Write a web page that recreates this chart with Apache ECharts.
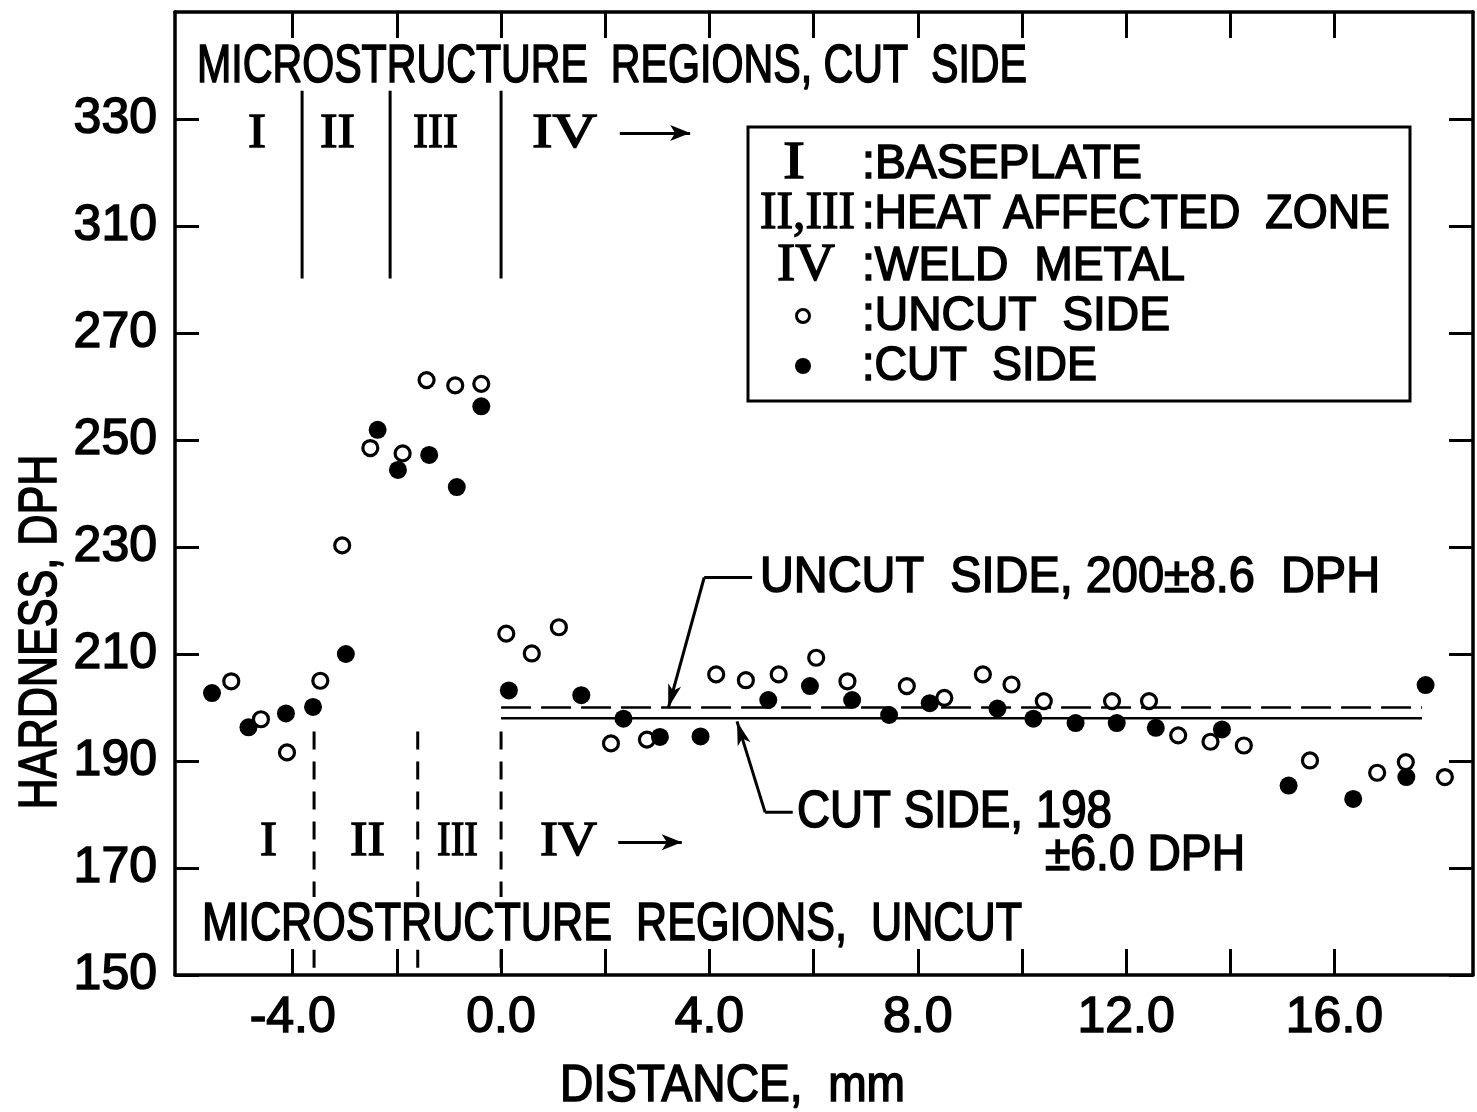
<!DOCTYPE html>
<html>
<head>
<meta charset="utf-8">
<script src="https://cdn.jsdelivr.net/npm/echarts@6/dist/echarts.min.js"></script>
<style>html,body{margin:0;padding:0;background:#fff}#c{width:1477px;height:1112px}</style>
</head>
<body>
<div id="c"></div>
<script>
// ---------- data ----------
const xTickValues = [-4, -2, 0, 2, 4, 6, 8, 10, 12, 14, 16];
const xLabelValues = [-4, 0, 4, 8, 12, 16];
const yTickValues = [150, 170, 190, 210, 230, 250, 270, 290, 310];
const yTickLabels = ['150', '170', '190', '210', '230', '250', '270', '310', '330'];

const uncutX = [-5.18, -4.61, -4.11, -3.47, -3.05, -2.51, -1.89, -1.43, -0.88, -0.38, 0.10, 0.59, 1.11, 2.11, 2.80, 4.13, 4.70, 5.33, 6.05, 6.65, 7.79, 8.51, 9.25, 9.80, 10.42, 11.73, 12.44, 13.00, 13.62, 14.26, 15.53, 16.82, 17.37, 18.12];
const uncutY = [204.9, 197.8, 191.6, 205.0, 230.3, 248.5, 247.5, 261.2, 260.2, 260.5, 213.8, 210.1, 215.0, 193.3, 194.0, 206.2, 205.1, 206.2, 209.3, 204.9, 204.0, 201.8, 206.2, 204.3, 201.2, 201.2, 201.2, 194.8, 193.6, 192.9, 190.1, 187.8, 189.8, 187.0];

const cutX = [-5.55, -4.85, -4.13, -3.61, -2.98, -2.37, -1.98, -1.38, -0.85, -0.38, 0.15, 1.54, 2.35, 3.05, 3.83, 5.13, 5.93, 6.74, 7.45, 8.23, 9.53, 10.22, 11.03, 11.82, 12.57, 13.84, 15.12, 16.36, 17.38, 17.75];
const cutY = [202.7, 196.3, 198.9, 200.1, 210.0, 251.9, 244.4, 247.2, 241.2, 256.3, 203.2, 202.3, 197.9, 194.5, 194.6, 201.4, 204.0, 201.4, 198.6, 200.8, 199.8, 197.9, 197.1, 197.1, 196.2, 195.9, 185.4, 182.9, 187.0, 204.2];

const uncutMean = 200;
const cutMean = 198;
const meanRange = [0, 17.68];

const cutSideBounds = [-3.82, -2.13, 0];
const uncutSideBounds = [-3.59, -1.60, 0];

// ---------- helpers ----------
const SANS = '"Liberation Sans", Arial, sans-serif';
const SERIF = '"Liberation Serif", "Times New Roman", serif';
const mctx = document.createElement('canvas').getContext('2d');

function fit(str, l, r, t, b, opt) {
  opt = opt || {};
  const fam = opt.family || SANS;
  const cap = opt.cap || 0.716;
  const weight = opt.weight || 'normal';
  const sw = opt.stroke === undefined ? 1.6 : opt.stroke;
  const fs = (b - t) / cap;
  const font = weight + ' ' + fs.toFixed(1) + 'px ' + fam;
  mctx.font = font;
  const w = mctx.measureText(str).width;
  return {
    type: 'text', x: l, y: (t + b) / 2, scaleX: (r - l) / w, z: 50,
    style: {
      text: str, font: font, fill: '#000', stroke: sw > 0 ? '#000' : null, lineWidth: sw,
      align: 'left', verticalAlign: 'middle', textAlign: 'left', textVerticalAlign: 'middle'
    }
  };
}
function roman(str, l, r, t, b) { return fit(str, l, r, t, b, { family: SERIF, cap: 0.662, weight: 'normal', stroke: 1.4 }); }

function seg(points, type, width) {
  return {
    type: 'line', data: points, symbol: 'none', silent: true, animation: false, z: 3,
    xAxisIndex: 0, yAxisIndex: 0,
    lineStyle: { color: '#000', width: width, type: type, opacity: 1 }
  };
}
function pair(x, y) { return [x, y]; }

// ---------- build series ----------
const series = [];
// mean lines
series.push(seg([pair(meanRange[0], uncutMean), pair(meanRange[1], uncutMean)], [30, 10], 2.5));
series.push(seg([pair(meanRange[0], cutMean), pair(meanRange[1], cutMean)], 'solid', 2.5));
// region boundaries, cut side (top, solid)
cutSideBounds.forEach(function (b) { series.push(seg([pair(b, 280.2), pair(b, 315.3)], 'solid', 3)); });
// region boundaries, uncut side (bottom, dashed; interrupted by the caption)
uncutSideBounds.forEach(function (b) {
  series.push(seg([pair(b, 195.5), pair(b, 164.6)], [18, 12], 3));
  series.push(seg([pair(b, 154.7), pair(b, 150)], [18, 12], 3));
});
// leader horizontals
series.push(seg([pair(3.90, 224.3), pair(4.82, 224.3)], 'solid', 3));
series.push(seg([pair(5.07, 180.4), pair(5.60, 180.4)], 'solid', 3));

// arrows via markLine
function arrowSeg(a, b, size) {
  return [{ coord: a, symbol: 'none' }, { coord: b, symbol: 'arrow', symbolSize: size }];
}
series.push({
  type: 'line', data: [], silent: true, animation: false, z: 3,
  markLine: {
    silent: true, animation: false, symbol: ['none', 'none'], label: { show: false },
    lineStyle: { color: '#000', width: 3, type: 'solid', opacity: 1 },
    emphasis: { disabled: true },
    data: [
      arrowSeg([3.90, 224.3], [3.21, 199.9], [10, 24]),
      arrowSeg([5.07, 180.4], [4.53, 197.4], [10, 24]),
      arrowSeg([2.28, 307.4], [3.63, 307.4], [12, 20]),
      arrowSeg([2.25, 174.8], [3.47, 174.8], [12, 20])
    ]
  }
});

// scatter points
series.push({
  name: 'UNCUT SIDE', type: 'scatter', z: 5, animation: false,
  data: uncutX.map(function (x, i) { return [x, uncutY[i]]; }),
  symbol: 'circle', symbolSize: 15,
  itemStyle: { color: '#fff', borderColor: '#000', borderWidth: 3.2, opacity: 1 }
});
series.push({
  name: 'CUT SIDE', type: 'scatter', z: 6, animation: false,
  data: cutX.map(function (x, i) { return [x, cutY[i]]; }),
  symbol: 'circle', symbolSize: 18,
  itemStyle: { color: '#000', opacity: 1 }
});

// ---------- graphic texts ----------
const graphics = [
  { type: 'rect', z: 40, shape: { x: 748, y: 127, width: 662, height: 274 }, style: { fill: '#fff', stroke: '#000', lineWidth: 3 } },
  fit('MICROSTRUCTURE  REGIONS, CUT  SIDE', 197, 1027, 48, 86),
  roman('I', 248, 266, 118, 150),
  roman('II', 320, 355, 118, 150),
  roman('III', 413, 458, 118, 150),
  roman('IV', 532, 597, 118, 150),

  roman('I', 783, 805, 147, 182),
  fit(':BASEPLATE', 862, 1142, 147, 182),
  roman('II,III', 760, 855, 197, 232),
  fit(':HEAT AFFECTED  ZONE', 862, 1390, 197, 232),
  roman('IV', 777, 835, 249, 284),
  fit(':WELD  METAL', 862, 1185, 249, 284),
  { type: 'circle', z: 50, shape: { cx: 803, cy: 316, r: 6.5 }, style: { fill: '#fff', stroke: '#000', lineWidth: 3 } },
  fit(':UNCUT  SIDE', 862, 1170, 299, 334),
  { type: 'circle', z: 50, shape: { cx: 803, cy: 366, r: 8 }, style: { fill: '#000' } },
  fit(':CUT  SIDE', 862, 1097, 349, 384),

  fit('UNCUT  SIDE, 200\u00b18.6  DPH', 760, 1380, 560, 596),
  fit('CUT SIDE, 198', 797, 1112, 794, 831),
  fit('\u00b16.0 DPH', 1045, 1245, 838, 874),

  roman('I', 260, 277, 826, 858),
  roman('II', 350, 385, 826, 858),
  roman('III', 437, 478, 826, 858),
  roman('IV', 540, 597, 826, 858),
  fit('MICROSTRUCTURE  REGIONS,  UNCUT', 202, 1022, 906, 944),

  fit('DISTANCE,  mm', 560, 905, 1068, 1105)
];
// vertical axis title
(function () {
  const fs = 38 / 0.716;
  const font = 'normal ' + fs.toFixed(1) + 'px ' + SANS;
  mctx.font = font;
  const w = mctx.measureText('HARDNESS, DPH').width;
  graphics.push({
    type: 'text', x: 41, y: 632, rotation: Math.PI / 2, scaleX: 355 / w, z: 50,
    style: { text: 'HARDNESS, DPH', font: font, fill: '#000', stroke: '#000', lineWidth: 1.6, align: 'center', verticalAlign: 'middle', textAlign: 'center', textVerticalAlign: 'middle' }
  });
})();

// ---------- axes ----------
const axisLine = { show: true, onZero: false, lineStyle: { color: '#000', width: 3.5 } };
function xAx(pos, withLabels) {
  return {
    type: 'value', position: pos, min: -6.26, max: 18.66,
    axisLine: axisLine, splitLine: { show: false },
    axisTick: { show: true, inside: true, length: 26, lineStyle: { color: '#000', width: 3 }, customValues: xTickValues },
    axisLabel: withLabels ? {
      show: true, customValues: xLabelValues, margin: 18, color: '#000', fontSize: 50, fontFamily: SANS,
      textBorderColor: '#000', textBorderWidth: 1.5,
      formatter: function (v) { return v.toFixed(1); }
    } : { show: false }
  };
}
function yAx(pos, withLabels) {
  return {
    type: 'value', position: pos, min: 150, max: 330,
    axisLine: axisLine, splitLine: { show: false },
    axisTick: { show: true, inside: true, length: 24, lineStyle: { color: '#000', width: 3 }, customValues: yTickValues },
    axisLabel: withLabels ? {
      show: true, customValues: yTickValues, margin: 18, color: '#000', fontSize: 50, fontFamily: SANS,
      textBorderColor: '#000', textBorderWidth: 1.5,
      formatter: function (v) { const i = yTickValues.indexOf(v); return i >= 0 ? yTickLabels[i] : ''; }
    } : { show: false }
  };
}

const chart = echarts.init(document.getElementById('c'), null, { renderer: 'canvas' });
chart.setOption({
  backgroundColor: '#fff',
  animation: false,
  grid: { left: 175, right: 4, top: 12, bottom: 137, containLabel: false },
  xAxis: [xAx('bottom', true), xAx('top', false)],
  yAxis: [yAx('left', true), yAx('right', false)],
  series: series,
  graphic: { elements: graphics }
});
</script>
</body>
</html>
